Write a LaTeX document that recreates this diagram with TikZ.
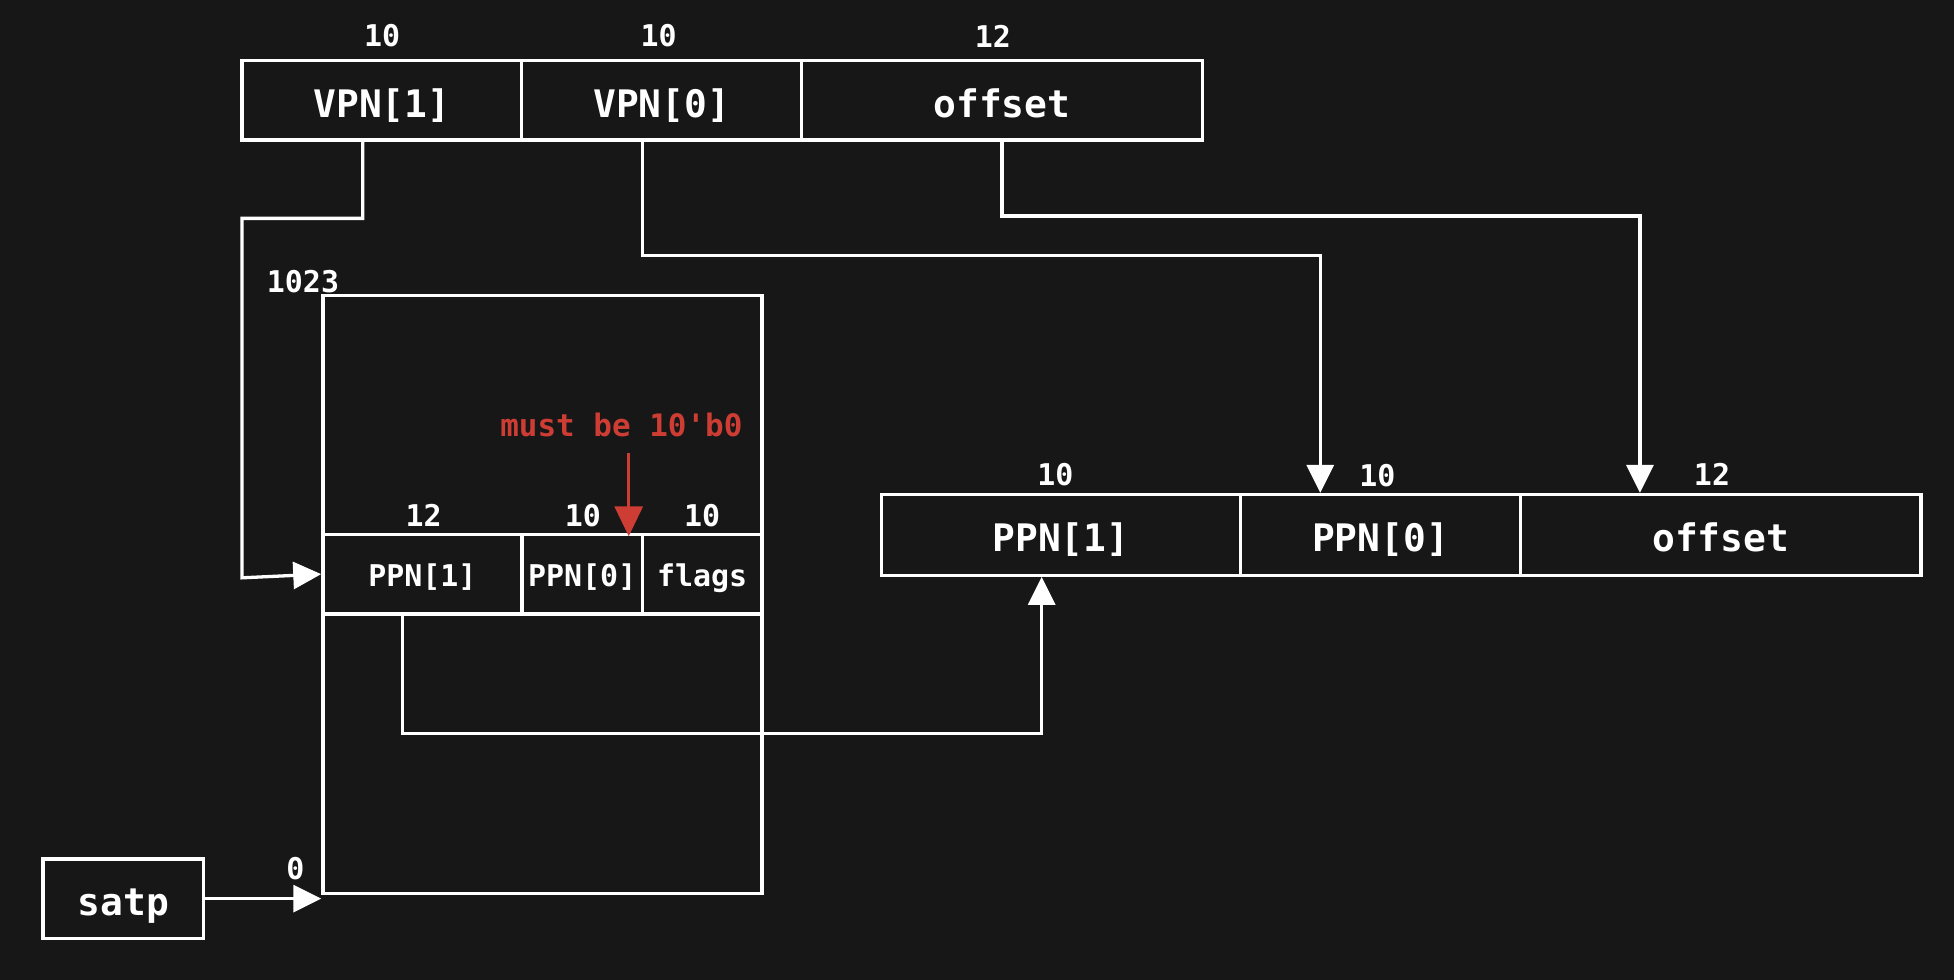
\documentclass[tikz,border=0pt]{standalone}
\usepackage{fontspec}
\setmonofont{DejaVu Sans Mono}
\usetikzlibrary{arrows.meta}
\definecolor{bg}{RGB}{23,23,23}
\definecolor{warn}{RGB}{205,61,52}

\begin{document}
\begin{tikzpicture}[x=1pt, y=-1pt, line width=3.3pt,
  field/.style={draw=white, rectangle, inner sep=0pt, text=white, text height=34pt, text depth=0pt, font=\ttfamily\bfseries\fontsize{38}{40}\selectfont},
  cell/.style={field, text height=25pt, font=\ttfamily\bfseries\fontsize{30}{32}\selectfont},
  bits/.style={text=white, inner sep=0pt, font=\ttfamily\bfseries\fontsize{30}{32}\selectfont},
  wire/.style={draw=white, -{Triangle[length=28pt,width=27pt]}}]

\fill[bg] (-2,-2) rectangle (1956,980);
\useasboundingbox (0,0) rectangle (1954,978);

% virtual address
\node[field, minimum width=280.4pt, minimum height=79.7pt] (vpn1) at (380.7,98.5) {VPN[1]};
\node[field, minimum width=280.4pt, minimum height=79.7pt] (vpn0) at (661.1,98.5) {VPN[0]};
\node[field, minimum width=401.3pt, minimum height=79.7pt] (voff) at (1002,98.5) {offset};
\node[bits] (bv1) at (381,34) {10};
\node[bits] (bv0) at (658,34) {10};
\node[bits] (bvo) at (993,34) {12};

% page table
\node[draw=white, rectangle, minimum width=439.9pt, minimum height=599.4pt, inner sep=0pt] (tab) at (541.5,593.8) {};
\node[bits] (top) at (301.6,280.4) {1023};
\node[bits] (bot) at (294,868.6) {0};
\node[cell, minimum width=199.4pt, minimum height=79.7pt] (eppn1) at (421.2,573.3) {PPN[1]};
\node[cell, minimum width=120.9pt, minimum height=79.7pt] (eppn0) at (581.4,573.3) {PPN[0]};
\node[cell, minimum width=119.6pt, minimum height=79.7pt] (flags) at (701.6,573.3) {flags};
\node[bits] (be1) at (422.5,514.7) {12};
\node[bits] (be0) at (582,514.7) {10};
\node[bits] (bef) at (701.6,514.7) {10};
\node[text=warn, inner sep=0pt, font=\ttfamily\bfseries\fontsize{31}{33}\selectfont] (note) at (620.6,423.7) {must be 10'b0};

% physical address
\node[field, minimum width=360.2pt, minimum height=81pt] (pppn1) at (1061.1,534) {PPN[1]};
\node[field, minimum width=280.4pt, minimum height=81pt] (pppn0) at (1381.4,534) {PPN[0]};
\node[field, minimum width=401.3pt, minimum height=81pt] (poff) at (1722.3,534) {offset};
\node[bits] (bp1) at (1055.5,473.6) {10};
\node[bits] (bp0) at (1378.3,474.8) {10};
\node[bits] (bpo) at (1713.5,473.6) {12};

\node[field, minimum width=160.8pt, minimum height=79.8pt] (satp) at (121.5,898.5) {satp};

% connectors
\coordinate (a1) at (361.4,138.3);
\coordinate (a2) at (240.5,216.8);
\coordinate (a3) at (240.5,577);
\coordinate (b1) at (641.8,138.3);
\coordinate (b2) at (1321,254.2);
\coordinate (c1) at (1002,138.3);
\coordinate (c2) at (1641.3,214.3);
\coordinate (d1) at (401.3,613.1);
\coordinate (d2) at (1041.8,732.8);
\coordinate (m1) at (628,452.4);
\coordinate (m2) at (628,535.4);

\draw[wire] (a1) |- (a2) -- (a3) -- (eppn1.west);
\draw[wire] (b1) |- (b2) -- (b2 |- pppn0.north);
\draw[wire] (c1) |- (c2) -- (c2 |- poff.north);
\draw[wire] (d1) |- (d2) -- (d2 |- pppn1.south);
\draw[wire] (satp.east) -- (tab.west |- satp.east);
\draw[draw=warn, -{Triangle[length=30pt,width=28pt]}] (m1) -- (m2);

\end{tikzpicture}
\end{document}
